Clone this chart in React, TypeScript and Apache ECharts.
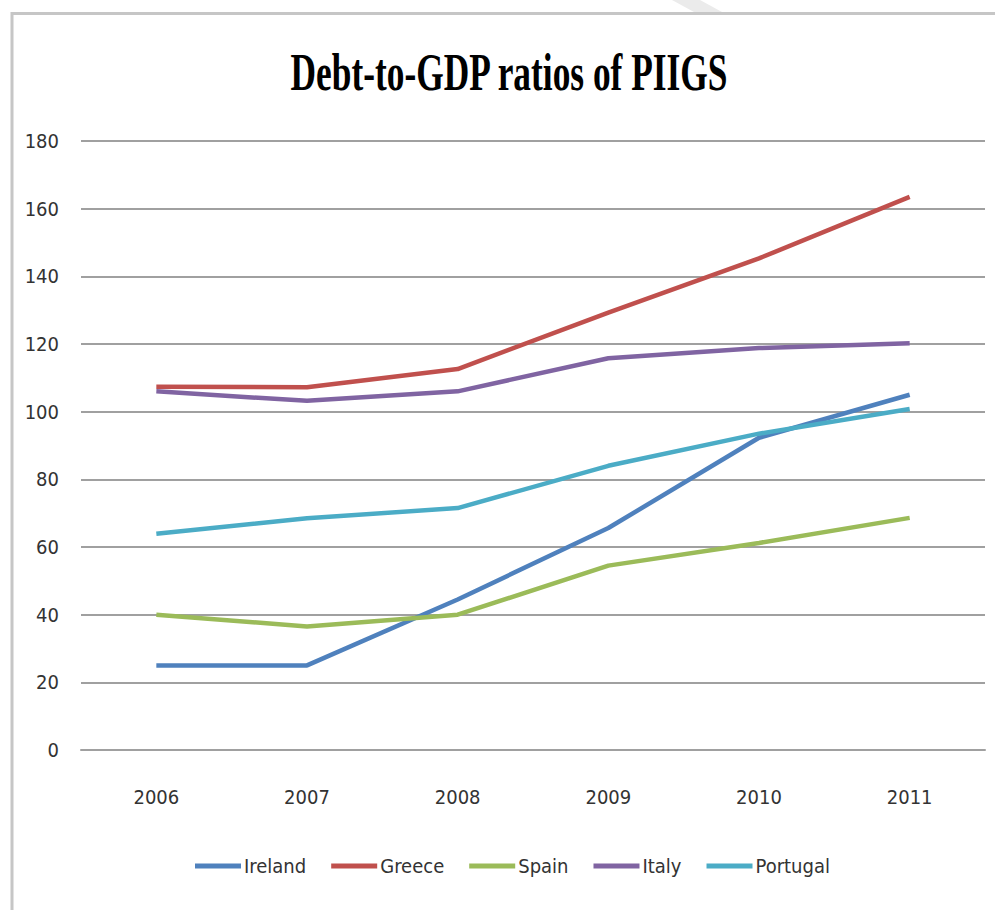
import React, { useEffect, useRef } from "react";
import * as echarts from "echarts";

const years = ["2006", "2007", "2008", "2009", "2010", "2011"];
const ireland = [25, 25, 44.5, 65.6, 92.3, 105];
const greece = [107.4, 107.2, 112.6, 129.3, 145.3, 163.5];
const spain = [40, 36.5, 40, 54.5, 61.2, 68.6];
const italy = [106, 103.2, 106, 115.8, 118.8, 120.2];
const portugal = [63.9, 68.5, 71.5, 84, 93.5, 100.8];
const yTicks = { min: 0, max: 180, interval: 20 };
const title = "Debt-to-GDP ratios of PIIGS";

const seriesDefs = [
  { name: "Ireland", data: ireland, color: "#4F81BD" },
  { name: "Greece", data: greece, color: "#C0504D" },
  { name: "Spain", data: spain, color: "#9BBB59" },
  { name: "Italy", data: italy, color: "#8064A2" },
  { name: "Portugal", data: portugal, color: "#4BACC6" },
];

const labelFont = "'Liberation Sans Narrow', 'DejaVu Sans Condensed', 'Liberation Sans', sans-serif";

export default function App() {
  const ref = useRef<HTMLDivElement>(null);
  useEffect(() => {
    if (!ref.current) return;
    const chart = echarts.init(ref.current, null, { renderer: "svg" });
    chart.setOption({
      animation: false,
      backgroundColor: "#ffffff",
      graphic: [
        {
          type: "polygon",
          shape: { points: [[672, 0], [700, 0], [722, 12], [694, 12]] },
          style: { fill: "#ebebeb" },
          silent: true,
        },
        {
          type: "rect",
          shape: { x: 12, y: 13.5, width: 1000, height: 1000 },
          style: { fill: "none", stroke: "#c6c6c6", lineWidth: 3 },
          silent: true,
        },
        {
          type: "text",
          x: 509,
          y: 72,
          scaleX: 0.68,
          style: {
            text: title,
            fontFamily: "'Liberation Serif', 'Times New Roman', serif",
            fontWeight: "bold",
            fontSize: 52,
            fill: "#000000",
            textAlign: "center",
            textVerticalAlign: "middle",
          },
          silent: true,
        },
      ],
      grid: { left: 81, right: 10, top: 141, bottom: 160, containLabel: false },
      legend: {
        top: 851,
        left: 190,
        itemWidth: 46,
        itemHeight: 5,
        itemGap: 25,
        icon: "rect",
        textStyle: { fontFamily: labelFont, fontSize: 20, color: "#333333", padding: [0, 0, 0, -2] },
        data: seriesDefs.map((s) => s.name),
      },
      xAxis: {
        type: "category",
        data: years,
        boundaryGap: true,
        axisLine: { show: true, lineStyle: { color: "#a0a0a0", width: 2 } },
        axisTick: { show: false },
        axisLabel: { margin: 37, fontFamily: labelFont, fontSize: 20, color: "#333333" },
      },
      yAxis: {
        type: "value",
        min: yTicks.min,
        max: yTicks.max,
        interval: yTicks.interval,
        axisLine: { show: false },
        axisTick: { show: false },
        splitLine: { lineStyle: { color: "#a0a0a0", width: 2 } },
        axisLabel: { margin: 22, fontFamily: labelFont, fontSize: 20, color: "#333333" },
      },
      series: seriesDefs.map((s) => ({
        name: s.name,
        type: "line",
        data: s.data,
        color: s.color,
        showSymbol: false,
        symbol: "none",
        lineStyle: { color: s.color, width: 4.5 },
        itemStyle: { color: s.color },
      })),
    });
    return () => chart.dispose();
  }, []);
  return (
    <div
      ref={ref}
      style={{ position: "absolute", left: 0, top: 0, width: 995, height: 910 }}
    />
  );
}
